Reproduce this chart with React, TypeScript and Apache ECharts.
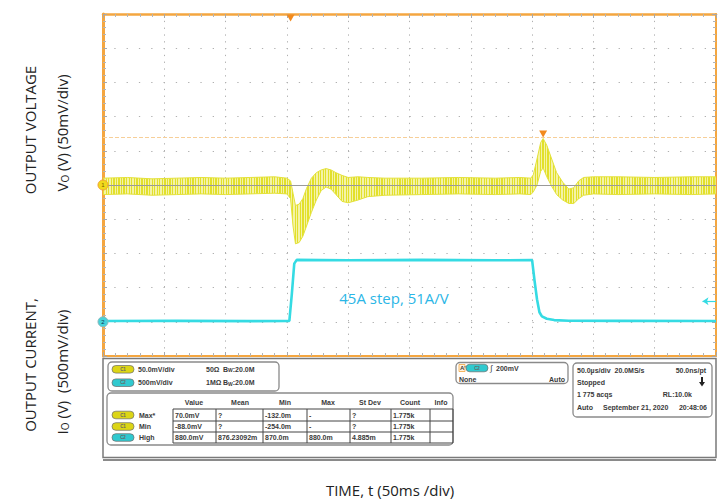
import React, { useEffect, useRef } from 'react';
import * as echarts from 'echarts';

// ---- Channel 1 (output voltage ripple band), time in µs, values in mV ----
const ch1Time = [0, 20, 40, 60, 80, 100, 120, 140, 150, 153, 155, 157, 160, 163, 166, 170, 174, 178, 182, 186, 190, 195, 200, 208, 216, 230, 260, 290, 320, 340, 349, 351, 354, 357, 359, 362, 366, 370, 375, 380, 384, 388, 392, 400, 420, 450, 480, 500];
const ch1Upper = [10, 11, 9, 10, 11, 10, 11, 12, 10, 6, -12, -30, -28, -20, -5, 10, 18, 22, 24, 22, 18, 14, 11, 12, 11, 10, 10, 11, 10, 11, 10, 15, 38, 62, 68, 58, 38, 18, 4, -6, -4, 6, 11, 12, 12, 11, 12, 12];
const ch1Lower = [-14, -13, -15, -14, -13, -14, -13, -12, -13, -20, -60, -86, -84, -75, -60, -40, -22, -8, -3, -6, -14, -24, -26, -22, -17, -15, -14, -13, -14, -13, -14, -10, 0, 20, 25, 12, -2, -14, -22, -27, -27, -20, -15, -13, -14, -13, -14, -13];

// ---- Channel 2 (output current sense), time in µs, values in mV ----
const ch2Time = [0, 60, 120, 152, 154, 156, 158, 200, 260, 320, 350, 352, 354, 356, 358, 362, 368, 380, 420, 500];
const ch2Value = [12, 14, 10, 12, 400, 850, 905, 900, 905, 900, 902, 600, 330, 140, 80, 45, 25, 15, 14, 12];

const triggerTime = 153;
const ch1Level = 70;
const ch1PeakTime = 359;
const ch2ArrowLevel = 300;

// ---- Measurement panel text ----
const tableHeaders = ['Value', 'Mean', 'Min', 'Max', 'St Dev', 'Count', 'Info'];
const tableRowLabels = ['Max*', 'Min', 'High'];
const tableRowChannels = ['C1', 'C1', 'C2'];
const tableRows = [
  ['70.0mV', '?', '-132.0m', '-', '?', '1.775k', ''],
  ['-88.0mV', '?', '-254.0m', '-', '?', '1.775k', ''],
  ['880.0mV', '876.23092m', '870.0m', '880.0m', '4.885m', '1.775k', ''],
];

const CYAN = '#35dbe3';
const ORANGE = '#f4a640';

export default function App() {
  const ref = useRef<HTMLDivElement>(null);
  useEffect(() => {
    const chart = echarts.init(ref.current!, null, { renderer: 'svg' });

    const stops: any[] = [];
    const nStripes = 240;
    for (let k = 0; k < nStripes; k++) {
      const a = k / nStripes;
      const m = (k + 0.5) / nStripes;
      const b = (k + 1) / nStripes;
      stops.push({ offset: a, color: '#e2e02a' }, { offset: m, color: '#e2e02a' }, { offset: m, color: '#f4f3a6' }, { offset: b, color: '#f4f3a6' });
    }
    const stripeFill = new echarts.graphic.LinearGradient(0, 0, 1, 0, stops);

    const font = 'Liberation Sans';
    const T = (x: number, y: number, text: string, extra: any = {}) => ({
      type: 'text',
      x,
      y,
      z: 20,
      style: {
        text,
        fontSize: 7,
        fontWeight: 'bold',
        fontFamily: font,
        fill: '#3a3a3a',
        align: 'left',
        verticalAlign: 'middle',
        textAlign: 'left',
        textVerticalAlign: 'middle',
        ...extra,
      },
    });
    const box = (x: number, y: number, w: number, h: number, r = 4, stroke = '#8a8a8a') => ({
      type: 'rect',
      z: 19,
      shape: { x, y, width: w, height: h, r },
      style: { fill: '#fff', stroke, lineWidth: 1.3 },
    });
    const pill = (x: number, y: number, ch: string) => [
      {
        type: 'rect',
        z: 20,
        shape: { x, y: y - 3.8, width: 22, height: 7.6, r: 3.8 },
        style: { fill: ch === 'C1' ? '#dcd516' : '#30c9cf', stroke: '#6a6a6a', lineWidth: 0.7 },
      },
      T(x + 11, y, ch, { fontSize: 4.5, align: 'center', textAlign: 'center', fill: '#666' }),
    ];
    const ln = (x1: number, y1: number, x2: number, y2: number, stroke = '#444', w = 1) => ({
      type: 'line',
      z: 20,
      shape: { x1, y1, x2, y2 },
      style: { stroke, lineWidth: w },
    });

    const colStarts = [173, 216, 263, 307, 350, 391, 430];
    const colCenters = [194, 240, 285, 328, 370, 410, 441];
    const tableRight = 453;
    const rowLines = [409, 421, 432, 443];
    const rowCenters = [415, 426.5, 437.5];

    const panel: any[] = [];
    panel.push({
      type: 'rect',
      z: 18,
      shape: { x: 103, y: 358.5, width: 613, height: 99 },
      style: { fill: '#fff', stroke: '#7a7a7a', lineWidth: 1.5 },
    });
    panel.push(ln(103, 460, 716, 460, '#8a8a8a', 2));
    panel.push(box(108, 362, 171, 29));
    panel.push(...pill(112, 369.3, 'C1'));
    panel.push(T(138, 369.3, '50.0mV/div'));
    panel.push(T(206, 369.3, '50Ω'));
    panel.push(T(223, 369.3, 'B{s|W}:20.0M', { rich: { s: { fontSize: 5, fontWeight: 'bold', fontFamily: font, fill: '#3a3a3a', verticalAlign: 'bottom' } } }));
    panel.push(...pill(112, 382.7, 'C2'));
    panel.push(T(138, 382.7, '500mV/div'));
    panel.push(T(206, 382.7, '1MΩ'));
    panel.push(T(223, 382.7, 'B{s|W}:20.0M', { rich: { s: { fontSize: 5, fontWeight: 'bold', fontFamily: font, fill: '#3a3a3a', verticalAlign: 'bottom' } } }));
    panel.push(box(107, 393, 346, 52));
    tableHeaders.forEach((h, i) => panel.push(T(colCenters[i], 402, h, { align: 'center', textAlign: 'center' })));
    rowLines.forEach((y) => panel.push(ln(colStarts[0], y, tableRight, y)));
    [...colStarts, tableRight].forEach((x) => panel.push(ln(x, rowLines[0], x, rowLines[3])));
    tableRows.forEach((row, r) => {
      panel.push(...pill(112, rowCenters[r], tableRowChannels[r]));
      panel.push(T(139, rowCenters[r], tableRowLabels[r]));
      row.forEach((cell, c) => {
        if (cell) panel.push(T(colStarts[c] + 2, rowCenters[r], cell));
      });
    });
    panel.push(box(456, 362.5, 112, 21));
    panel.push({ type: 'rect', z: 20, shape: { x: 459, y: 364.5, width: 6, height: 7 }, style: { fill: '#fff3e0', stroke: ORANGE, lineWidth: 0.8 } });
    panel.push(T(460, 368, "A'", { fontSize: 6 }));
    panel.push(...pill(466, 368, 'C2'));
    panel.push(T(490, 368, '∫', { fontSize: 8, fontWeight: 'normal' }));
    panel.push(T(496, 368, '200mV'));
    panel.push(T(459, 379.5, 'None'));
    panel.push(T(565, 379.5, 'Auto', { align: 'right', textAlign: 'right' }));
    panel.push(box(573, 363, 139, 54));
    panel.push(T(577, 370.5, '50.0µs/div  20.0MS/s'));
    panel.push(T(706, 370.5, '50.0ns/pt', { align: 'right', textAlign: 'right' }));
    panel.push(T(577, 382.5, 'Stopped'));
    panel.push({ type: 'rect', z: 20, shape: { x: 701, y: 377, width: 2, height: 6 }, style: { fill: '#222' } });
    panel.push({ type: 'polygon', z: 20, shape: { points: [[699, 382], [705, 382], [702, 386.5]] }, style: { fill: '#222' } });
    panel.push(T(577, 394.5, '1 775 acqs'));
    panel.push(T(692, 394.5, 'RL:10.0k', { align: 'right', textAlign: 'right' }));
    panel.push(T(577, 407, 'Auto'));
    panel.push(T(603, 407, 'September 21, 2020'));
    panel.push(T(707, 407, '20:48:06', { align: 'right', textAlign: 'right' }));

    const labelFont = 'Open Sans';
    const big = (x: number, y: number, text: string, rot: number, extra: any = {}) => ({
      type: 'text',
      x,
      y,
      rotation: rot,
      z: 20,
      style: {
        text,
        fontSize: 15,
        fontFamily: labelFont,
        fill: '#222',
        align: 'center',
        verticalAlign: 'middle',
        textAlign: 'center',
        textVerticalAlign: 'middle',
        ...extra,
      },
    });
    const subRich = {
      n: { fontSize: 15, fontFamily: labelFont, fill: '#222' },
      s: { fontSize: 10, fontFamily: labelFont, fill: '#222', verticalAlign: 'bottom', padding: [6, 0, 0, 0] },
    };
    const labels = [
      big(30, 130, 'OUTPUT VOLTAGE', Math.PI / 2),
      big(62, 133, '{n|V}{s|O}{n| (V) (50mV/div)}', Math.PI / 2, { rich: subRich }),
      big(30, 365, 'OUTPUT CURRENT,', Math.PI / 2),
      big(62, 372, '{n|I}{s|O}{n| (V)  (500mV/div)}', Math.PI / 2, { rich: subRich }),
      big(390, 490, 'TIME, t (50ms /div)', 0),
      big(394, 298, '45A step, 51A/V', 0, { fill: '#2bb6e6' }),
    ];

    const axisTickCommon = {
      axisTick: { show: true, inside: true, length: 4, lineStyle: { color: '#a8a8a8', width: 1 } },
      minorTick: { show: true, splitNumber: 5, length: 3, lineStyle: { color: '#b4b4b4', width: 1 } },
      axisLabel: { show: false },
    };

    const option: any = {
      animation: false,
      backgroundColor: '#ffffff',
      grid: { left: 103, right: 7, top: 14, bottom: 148, show: false },
      xAxis: [
        {
          type: 'value', min: 0, max: 500, interval: 50, position: 'bottom',
          axisLine: { show: true, onZero: false, lineStyle: { color: ORANGE, width: 2 } },
          splitLine: { show: true, lineStyle: { color: '#b0b0b0', width: 1, type: [1.3, 5.5] } },
          ...axisTickCommon,
        },
        {
          type: 'value', min: 0, max: 500, interval: 50, position: 'top',
          axisLine: { show: true, onZero: false, lineStyle: { color: ORANGE, width: 2.5 } },
          splitLine: { show: false },
          ...axisTickCommon,
        },
      ],
      yAxis: [
        {
          type: 'value', min: -250, max: 250, interval: 50, position: 'left',
          axisLine: { show: true, onZero: false, lineStyle: { color: ORANGE, width: 3 } },
          splitLine: { show: true, lineStyle: { color: '#b0b0b0', width: 1, type: [1.3, 11], dashOffset: 0.6 } },
          ...axisTickCommon,
        },
        {
          type: 'value', min: -500, max: 4500, interval: 500, position: 'right',
          axisLine: { show: true, onZero: false, lineStyle: { color: ORANGE, width: 2 } },
          splitLine: { show: false },
          ...axisTickCommon,
        },
      ],
      series: [
        {
          type: 'line',
          xAxisIndex: 0,
          yAxisIndex: 0,
          data: [[0, 0]],
          showSymbol: false,
          lineStyle: { opacity: 0 },
          z: 1,
          silent: true,
          markLine: {
            silent: true,
            symbol: 'none',
            label: { show: false },
            data: [
              { yAxis: 0, lineStyle: { color: '#9a9a9a', width: 1, type: 'solid' } },
              { yAxis: ch1Level, lineStyle: { color: '#f7cf98', width: 1.2, type: [4, 2] } },
            ],
          },
          markPoint: {
            silent: true,
            label: { show: false },
            data: [
              {
                coord: [0, 0], symbol: 'circle', symbolSize: 10,
                itemStyle: { color: '#f0da1c', borderColor: '#f2a030', borderWidth: 1 },
                label: { show: true, formatter: '1', fontSize: 6, color: '#7a5a00', position: 'inside' },
              },
              {
                coord: [triggerTime, 250], symbol: 'triangle', symbolRotate: 180, symbolSize: [8, 7], symbolOffset: [0, 4],
                itemStyle: { color: '#f28a1e' },
              },
              {
                coord: [ch1PeakTime, ch1Level], symbol: 'triangle', symbolRotate: 180, symbolSize: [8, 7], symbolOffset: [0, -3],
                itemStyle: { color: '#f28a1e' },
              },
            ],
          },
        },
        {
          type: 'custom',
          xAxisIndex: 0,
          yAxisIndex: 0,
          z: 3,
          silent: true,
          clip: true,
          data: [[0, 0]],
          renderItem: (params: any, api: any) => {
            const pts: number[][] = [];
            for (let i = 0; i < ch1Time.length; i++) pts.push(api.coord([ch1Time[i], ch1Upper[i]]));
            for (let i = ch1Time.length - 1; i >= 0; i--) pts.push(api.coord([ch1Time[i], ch1Lower[i]]));
            return {
              type: 'polygon',
              shape: { points: pts },
              style: { fill: stripeFill, stroke: '#e4e23a', lineWidth: 1 },
            };
          },
        },
        {
          type: 'line',
          xAxisIndex: 0,
          yAxisIndex: 1,
          z: 4,
          data: ch2Time.map((t, i) => [t, ch2Value[i]]),
          showSymbol: false,
          lineStyle: { color: CYAN, width: 2.6 },
          silent: true,
          markPoint: {
            silent: true,
            data: [
              {
                coord: [0, 0], symbol: 'circle', symbolSize: 10,
                itemStyle: { color: '#46d3da', borderColor: '#8ab8bc', borderWidth: 1 },
                label: { show: true, formatter: '2', fontSize: 6, color: '#135', position: 'inside' },
              },
            ],
          },
          markLine: {
            silent: true,
            label: { show: false },
            lineStyle: { color: CYAN, width: 1.2, type: 'solid' },
            data: [[
              { coord: [489, ch2ArrowLevel], symbol: 'arrow', symbolSize: 6 },
              { coord: [500, ch2ArrowLevel], symbol: 'none' },
            ]],
          },
        },
      ],
      graphic: [...panel, ...labels],
    };
    chart.setOption(option);
    return () => chart.dispose();
  }, []);
  return <div ref={ref} style={{ position: 'absolute', left: 0, top: 0, width: 723, height: 504 }} />;
}
